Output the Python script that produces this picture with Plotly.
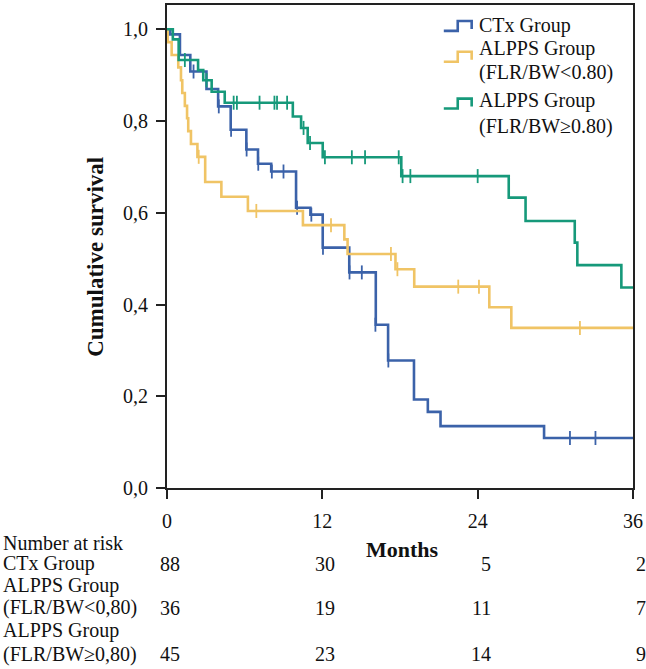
import plotly.graph_objects as go

# --- data (months, cumulative survival) ---
ctx_t = [0, 0.25, 1.0, 1.8, 3.05, 3.95, 4.92, 6.13, 7.03, 8.05, 9.97, 11.08, 12.03,
         14.08, 16.13, 17.08, 19.08, 20.15, 21.13, 29.13, 36]
ctx_s = [1.0, 0.989, 0.944, 0.908, 0.870, 0.832, 0.781, 0.738, 0.707, 0.690, 0.611, 0.596, 0.524,
         0.470, 0.356, 0.278, 0.193, 0.166, 0.135, 0.109, 0.109]
ctx_cens_t = [2.05, 4.0, 4.95, 6.15, 7.05, 8.1, 9.0, 10.05, 11.15, 12.05, 14.1, 15.05, 16.1, 17.1, 31.13, 33.1]
ctx_cens_s = [0.908, 0.832, 0.781, 0.738, 0.707, 0.690, 0.690, 0.611, 0.596, 0.524, 0.470, 0.470, 0.356, 0.278, 0.109, 0.109]

low_t = [0, 0.05, 0.36, 0.87, 1.08, 1.18, 1.38, 1.55, 1.64, 1.85, 2.35, 2.95, 4.2, 6.25,
         10.5, 13.7, 13.95, 17.65, 19.1, 24.9, 26.6, 36]
low_s = [1.0, 0.972, 0.944, 0.917, 0.889, 0.861, 0.833, 0.806, 0.778, 0.750, 0.722, 0.667, 0.635, 0.604,
         0.573, 0.542, 0.510, 0.477, 0.439, 0.394, 0.349, 0.349]
low_cens_t = [2.45, 6.9, 12.67, 17.3, 17.8, 22.5, 24.1, 31.9]
low_cens_s = [0.722, 0.604, 0.573, 0.510, 0.477, 0.439, 0.439, 0.349]

high_t = [0, 0.45, 0.9, 2.4, 2.8, 3.45, 4.46, 9.72, 10.36, 10.87, 12.03, 18.1, 26.4, 27.7,
          31.5, 31.7, 35.1, 36]
high_s = [1.0, 0.978, 0.933, 0.911, 0.889, 0.864, 0.840, 0.810, 0.785, 0.752, 0.721, 0.680, 0.633, 0.582,
          0.535, 0.486, 0.437, 0.437]
high_cens_t = [1.38, 3.05, 5.15, 5.4, 7.15, 8.3, 8.5, 9.28, 10.55, 11.05, 12.2, 14.28, 15.3, 17.9, 18.2, 18.8, 24.0]
high_cens_s = [0.933, 0.889, 0.840, 0.840, 0.840, 0.840, 0.840, 0.840, 0.785, 0.752, 0.721, 0.721, 0.721, 0.721,
               0.680, 0.680, 0.680]

risk_times = [0, 12, 24, 36]
risk_ctx = [88, 30, 5, 2]
risk_low = [36, 19, 11, 7]
risk_high = [45, 23, 14, 9]

y_ticks = [0, 0.2, 0.4, 0.6, 0.8, 1.0]
y_ticktext = ["0,0", "0,2", "0,4", "0,6", "0,8", "1,0"]

BLUE = "#3B62A9"
YELLOW = "#F0C465"
GREEN = "#16997A"
FONT = "Liberation Serif, Times New Roman, serif"

# plot area in pixels: x 167..635, y 3..488
def px(xp):
    return (xp - 167) / 468.0

def py(yp):
    return (488 - yp) / 485.0

fig = go.Figure()
groups = [
    (ctx_t, ctx_s, ctx_cens_t, ctx_cens_s, BLUE),
    (low_t, low_s, low_cens_t, low_cens_s, YELLOW),
    (high_t, high_s, high_cens_t, high_cens_s, GREEN),
]
for t, s, ct, cs, col in groups:
    fig.add_trace(go.Scatter(x=t, y=s, mode="lines", line=dict(color=col, width=2.6, shape="hv"),
                             showlegend=False, hoverinfo="skip"))
    fig.add_trace(go.Scatter(x=ct, y=cs, mode="markers",
                             marker=dict(symbol="line-ns", size=10, line=dict(color=col, width=1.8)),
                             showlegend=False, hoverinfo="skip"))

axis_common = dict(showline=True, linecolor="#222", linewidth=2, mirror=True,
                   ticks="outside", ticklen=9, tickwidth=2, tickcolor="#222",
                   showgrid=False, zeroline=False,
                   tickfont=dict(family=FONT, size=20, color="#111"))
fig.update_xaxes(range=[0, 36], tickvals=risk_times, ticklabelstandoff=5, **axis_common)
fig.update_yaxes(range=[0, 1.053], tickvals=y_ticks, ticktext=y_ticktext, ticklabelstandoff=4, **axis_common)

ann = []
# axis titles
ann.append(dict(x=px(81), y=py(256), xref="paper", yref="paper", text="<b>Cumulative survival</b>",
                textangle=-90, showarrow=False, font=dict(family=FONT, size=23, color="#111")))
ann.append(dict(x=px(404), y=py(564), xref="paper", yref="paper", text="<b>Months</b>",
                showarrow=False, font=dict(family=FONT, size=22, color="#111")))

# legend (step-shaped keys drawn as shapes)
legend_rows = [("CTx Group", 24), ("ALPPS Group", 47), ("(FLR/BW<0.80)", 71),
               ("ALPPS Group", 99), ("(FLR/BW≥0.80)", 125)]
for txt, yy in legend_rows:
    ann.append(dict(x=px(478), y=py(yy), xref="paper", yref="paper", text=txt, xanchor="left",
                    yanchor="middle", showarrow=False, font=dict(family=FONT, size=20, color="#111")))
shapes = []
for col, ylow, yhigh in [(BLUE, 29, 19), (YELLOW, 60, 50), (GREEN, 107, 97)]:
    path = "M {:.4f},{:.4f} L {:.4f},{:.4f} L {:.4f},{:.4f} L {:.4f},{:.4f} L {:.4f},{:.4f}".format(
        px(445), py(ylow), px(459), py(ylow), px(459), py(yhigh), px(473), py(yhigh), px(473), py(ylow - 2))
    shapes.append(dict(type="path", path=path, xref="paper", yref="paper",
                       line=dict(color=col, width=2.6)))

# number at risk table
left_rows = [("Number at risk", 543), ("CTx Group", 564), ("ALPPS Group", 586),
             ("(FLR/BW<0,80)", 608), ("ALPPS Group", 631), ("(FLR/BW≥0,80)", 655)]
for txt, yy in left_rows:
    ann.append(dict(x=px(0), y=py(yy), xref="paper", yref="paper", text=txt, xanchor="left",
                    yanchor="middle", showarrow=False, font=dict(family=FONT, size=20, color="#111")))
for vals, yy in [(risk_ctx, 564), (risk_low, 608), (risk_high, 655)]:
    for t, v in zip(risk_times, vals):
        ann.append(dict(x=t, y=py(yy), xref="x", yref="paper", text=str(v), xanchor="right",
                        xshift=15, yanchor="middle", showarrow=False,
                        font=dict(family=FONT, size=20, color="#111")))

fig.update_layout(width=646, height=669, margin=dict(l=167, r=11, t=3, b=181),
                  plot_bgcolor="white", paper_bgcolor="white", annotations=ann, shapes=shapes,
                  showlegend=False)
# drop the default page margin so the figure sits at the window's top-left corner
fig.write_html("out.html", config={"displayModeBar": False},
               post_script="document.body.style.margin='0';document.body.style.overflow='hidden';")
